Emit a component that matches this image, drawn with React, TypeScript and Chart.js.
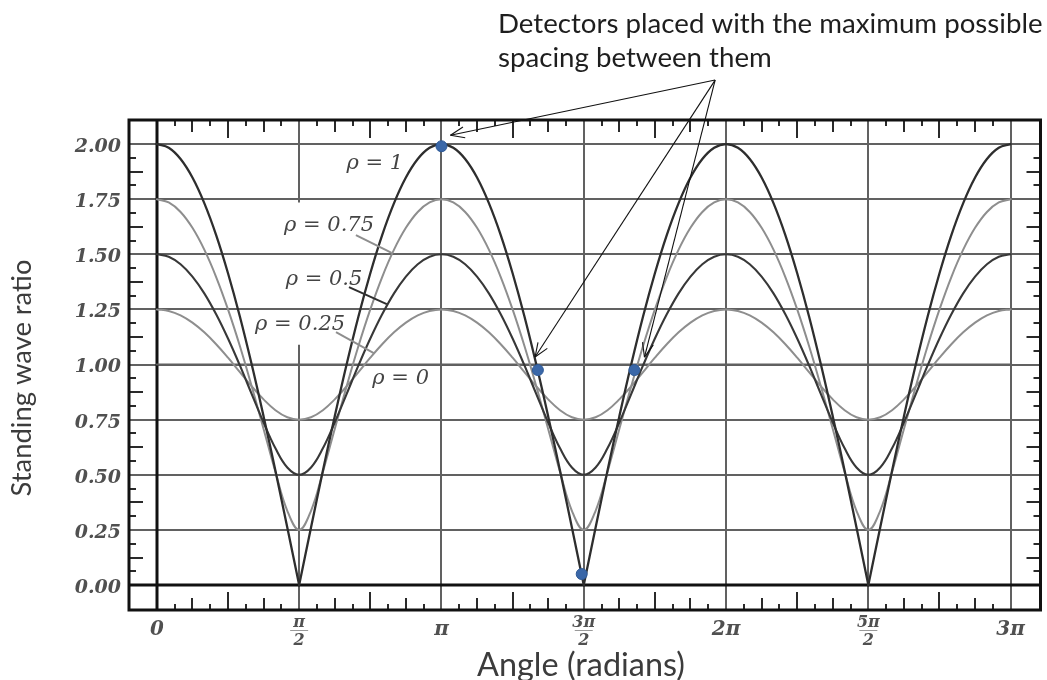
import React, { useEffect, useRef } from 'react';
import { Chart, registerables } from 'chart.js';

Chart.register(...registerables);

// ---------- data ----------
// Angle in degrees (0 .. 3π expressed as 0 .. 540°)
const ANGLE_DEG = [
  0, 7.5, 15, 22.5, 30, 37.5, 45, 52.5, 60, 67.5, 75, 82.5, 90, 97.5, 105, 112.5, 120, 127.5, 135, 142.5, 150, 157.5, 165, 172.5,
  180, 187.5, 195, 202.5, 210, 217.5, 225, 232.5, 240, 247.5, 255, 262.5, 270, 277.5, 285, 292.5, 300, 307.5, 315, 322.5, 330, 337.5, 345, 352.5,
  360, 367.5, 375, 382.5, 390, 397.5, 405, 412.5, 420, 427.5, 435, 442.5, 450, 457.5, 465, 472.5, 480, 487.5, 495, 502.5, 510, 517.5, 525, 532.5,
  540,
];

const SWR_RHO_1 = [
  2.000, 1.983, 1.932, 1.848, 1.732, 1.587, 1.414, 1.218, 1.000, 0.765, 0.518, 0.261, 0.000, 0.261, 0.518, 0.765, 1.000, 1.218, 1.414, 1.587, 1.732, 1.848, 1.932, 1.983,
  2.000, 1.983, 1.932, 1.848, 1.732, 1.587, 1.414, 1.218, 1.000, 0.765, 0.518, 0.261, 0.000, 0.261, 0.518, 0.765, 1.000, 1.218, 1.414, 1.587, 1.732, 1.848, 1.932, 1.983,
  2.000, 1.983, 1.932, 1.848, 1.732, 1.587, 1.414, 1.218, 1.000, 0.765, 0.518, 0.261, 0.000, 0.261, 0.518, 0.765, 1.000, 1.218, 1.414, 1.587, 1.732, 1.848, 1.932, 1.983,
  2.000,
];

const SWR_RHO_075 = [
  1.750, 1.735, 1.692, 1.620, 1.521, 1.397, 1.250, 1.084, 0.901, 0.708, 0.513, 0.337, 0.250, 0.337, 0.513, 0.708, 0.901, 1.084, 1.250, 1.397, 1.521, 1.620, 1.692, 1.735,
  1.750, 1.735, 1.692, 1.620, 1.521, 1.397, 1.250, 1.084, 0.901, 0.708, 0.513, 0.337, 0.250, 0.337, 0.513, 0.708, 0.901, 1.084, 1.250, 1.397, 1.521, 1.620, 1.692, 1.735,
  1.750, 1.735, 1.692, 1.620, 1.521, 1.397, 1.250, 1.084, 0.901, 0.708, 0.513, 0.337, 0.250, 0.337, 0.513, 0.708, 0.901, 1.084, 1.250, 1.397, 1.521, 1.620, 1.692, 1.735,
  1.750,
];

const SWR_RHO_05 = [
  1.500, 1.489, 1.455, 1.399, 1.323, 1.228, 1.118, 0.996, 0.866, 0.737, 0.620, 0.533, 0.500, 0.533, 0.620, 0.737, 0.866, 0.996, 1.118, 1.228, 1.323, 1.399, 1.455, 1.489,
  1.500, 1.489, 1.455, 1.399, 1.323, 1.228, 1.118, 0.996, 0.866, 0.737, 0.620, 0.533, 0.500, 0.533, 0.620, 0.737, 0.866, 0.996, 1.118, 1.228, 1.323, 1.399, 1.455, 1.489,
  1.500, 1.489, 1.455, 1.399, 1.323, 1.228, 1.118, 0.996, 0.866, 0.737, 0.620, 0.533, 0.500, 0.533, 0.620, 0.737, 0.866, 0.996, 1.118, 1.228, 1.323, 1.399, 1.455, 1.489,
  1.500,
];

const SWR_RHO_025 = [
  1.250, 1.243, 1.223, 1.190, 1.146, 1.092, 1.031, 0.966, 0.901, 0.842, 0.793, 0.761, 0.750, 0.761, 0.793, 0.842, 0.901, 0.966, 1.031, 1.092, 1.146, 1.190, 1.223, 1.243,
  1.250, 1.243, 1.223, 1.190, 1.146, 1.092, 1.031, 0.966, 0.901, 0.842, 0.793, 0.761, 0.750, 0.761, 0.793, 0.842, 0.901, 0.966, 1.031, 1.092, 1.146, 1.190, 1.223, 1.243,
  1.250, 1.243, 1.223, 1.190, 1.146, 1.092, 1.031, 0.966, 0.901, 0.842, 0.793, 0.761, 0.750, 0.761, 0.793, 0.842, 0.901, 0.966, 1.031, 1.092, 1.146, 1.190, 1.223, 1.243,
  1.250,
];

const RHO_0_ANGLE_DEG = [0, 540];
const SWR_RHO_0 = [1.0, 1.0];

// indices (into ANGLE_DEG) where the ρ = 1 curve has its sharp zeros
const RHO_1_CUSP_INDEX = [0, 12, 36, 60, 72];

// detector positions (blue dots)
const DETECTOR_ANGLE_DEG = [180, 241, 302, 268.7];
const DETECTOR_SWR = [1.99, 0.975, 0.975, 0.05];

// axes
const Y_TICKS = [0, 0.25, 0.5, 0.75, 1.0, 1.25, 1.5, 1.75, 2.0];
const X_TICKS_DEG = [0, 90, 180, 270, 360, 450, 540];
const X_TICK_NUM = ['0', 'π', 'π', '3π', '2π', '5π', '3π'];
const X_TICK_DEN = ['', '2', '', '2', '', '2', ''];

// curve labels
const RHO_LABELS = ['ρ = 1', 'ρ = 0.75', 'ρ = 0.5', 'ρ = 0.25', 'ρ = 0'];

const TITLE_LINES = ['Detectors placed with the maximum possible', 'spacing between them'];
const Y_TITLE = 'Standing wave ratio';
const X_TITLE = 'Angle (radians)';

// ---------- styling ----------
const DARK = '#2e2e2e';
const LIGHT = '#8e8e8e';
const GRID = '#616161';
const FRAME = '#111111';
const DOT = '#3a67a8';
const SERIF = '"DejaVu Serif", "Liberation Serif", serif';
const SANS = 'Lato, "Open Sans", sans-serif';

export default function App() {
  const ref = useRef<HTMLCanvasElement | null>(null);

  useEffect(() => {
    const canvas = ref.current;
    if (!canvas) return;

    const pts = (xs: number[], ys: number[]) => xs.map((x, i) => ({ x, y: ys[i] }));

    const line = (ctx: CanvasRenderingContext2D, x1: number, y1: number, x2: number, y2: number) => {
      ctx.beginPath();
      ctx.moveTo(x1, y1);
      ctx.lineTo(x2, y2);
      ctx.stroke();
    };

    const fitSize = (ctx: CanvasRenderingContext2D, text: string, family: string, target: number) => {
      ctx.font = `40px ${family}`;
      const w = ctx.measureText(text).width;
      return (40 * target) / w;
    };

    const decor = {
      id: 'decor',
      beforeDatasetsDraw(chart: any) {
        const { ctx, chartArea: a, scales } = chart;
        const xs = scales.x;
        const ys = scales.y;
        ctx.save();
        ctx.lineCap = 'butt';
        ctx.strokeStyle = GRID;
        ctx.lineWidth = 2;
        for (const v of Y_TICKS) {
          if (v === 0) continue;
          const py = Math.round(ys.getPixelForValue(v));
          line(ctx, a.left, py, a.right, py);
        }
        for (const v of X_TICKS_DEG) {
          if (v === 0) continue;
          const px = Math.round(xs.getPixelForValue(v));
          if (v === 90) {
            // gridline interrupted behind the curve labels
            line(ctx, px, a.top, px, ys.getPixelForValue(1.735));
            line(ctx, px, ys.getPixelForValue(1.09), px, a.bottom);
          } else {
            line(ctx, px, a.top, px, a.bottom);
          }
        }
        ctx.strokeStyle = FRAME;
        ctx.lineWidth = 3;
        const x0 = Math.round(xs.getPixelForValue(0));
        const y0 = Math.round(ys.getPixelForValue(0));
        line(ctx, x0, a.top, x0, a.bottom);
        line(ctx, a.left, y0, a.right, y0);
        ctx.restore();
      },
      afterDatasetsDraw(chart: any) {
        const { ctx, chartArea: a, scales } = chart;
        const xs = scales.x;
        const ys = scales.y;
        ctx.save();
        // minor tick marks on top / bottom
        ctx.strokeStyle = '#2a2a2a';
        ctx.lineWidth = 2;
        for (let k = 1; k < 48; k++) {
          if (k % 8 === 0) continue;
          const len = k % 4 === 0 ? 18 : k % 2 === 0 ? 12 : 6;
          const px = Math.round(xs.getPixelForValue(k * 11.25));
          line(ctx, px, a.top, px, a.top + len);
          line(ctx, px, a.bottom, px, a.bottom - len);
        }
        // minor tick marks on left / right
        for (let k = 1; k < 32; k++) {
          if (k % 4 === 0) continue;
          const len = k % 2 === 0 ? 14 : 7;
          const py = Math.round(ys.getPixelForValue(k * 0.0625));
          line(ctx, a.left, py, a.left + len, py);
          line(ctx, a.right, py, a.right - len, py);
        }
        // frame
        ctx.strokeStyle = FRAME;
        ctx.lineWidth = 3;
        ctx.strokeRect(a.left, a.top, a.right - a.left, a.bottom - a.top);
        ctx.restore();
      },
      afterDraw(chart: any) {
        const { ctx, chartArea: a, scales } = chart;
        const xs = scales.x;
        const ys = scales.y;
        const P = (dx: number, dy: number) => [xs.getPixelForValue(dx), ys.getPixelForValue(dy)];
        ctx.save();

        // x tick labels (with fractions)
        ctx.fillStyle = '#505050';
        ctx.textAlign = 'center';
        ctx.textBaseline = 'alphabetic';
        X_TICKS_DEG.forEach((v, i) => {
          const px = xs.getPixelForValue(v);
          if (X_TICK_DEN[i]) {
            ctx.font = `italic bold 16px ${SERIF}`;
            ctx.fillText(X_TICK_NUM[i], px, a.bottom + 17);
            ctx.strokeStyle = '#9a9a9a';
            ctx.lineWidth = 1;
            line(ctx, px - 9, a.bottom + 20.5, px + 9, a.bottom + 20.5);
            ctx.fillText(X_TICK_DEN[i], px, a.bottom + 35);
          } else {
            ctx.font = `italic bold 20px ${SERIF}`;
            ctx.fillText(X_TICK_NUM[i], px, a.bottom + 25);
          }
        });

        // curve labels and leader lines
        ctx.font = `italic 21px ${SERIF}`;
        ctx.fillStyle = '#444444';
        ctx.textBaseline = 'middle';
        const labelPos = [
          [137.8, 1.918],
          [108.9, 1.633],
          [105.7, 1.392],
          [90.6, 1.188],
          [154.2, 0.943],
        ];
        RHO_LABELS.forEach((t, i) => {
          const [px, py] = P(labelPos[i][0], labelPos[i][1]);
          ctx.fillText(t, px, py + 1);
        });
        const leaders = [
          { from: [125.9, 1.587], to: [148.5, 1.506], color: LIGHT },
          { from: [121.5, 1.351], to: [145.4, 1.274], color: DARK },
          { from: [113.3, 1.147], to: [137.2, 1.052], color: LIGHT },
        ];
        ctx.lineWidth = 2;
        for (const l of leaders) {
          const [x1, y1] = P(l.from[0], l.from[1]);
          const [x2, y2] = P(l.to[0], l.to[1]);
          ctx.strokeStyle = l.color;
          line(ctx, x1, y1, x2, y2);
        }

        // arrows from the annotation to the detectors
        const [ax, ay] = P(353.1, 2.29);
        const tips = [
          [185.7, 2.04],
          [239.2, 1.034],
          [308.4, 1.034],
        ];
        ctx.strokeStyle = '#111';
        ctx.lineWidth = 1.1;
        for (const t of tips) {
          const [tx, ty] = P(t[0], t[1]);
          line(ctx, ax, ay, tx, ty);
          const ang = Math.atan2(ay - ty, ax - tx);
          const hl = 15;
          const spread = 0.38;
          line(ctx, tx, ty, tx + hl * Math.cos(ang + spread), ty + hl * Math.sin(ang + spread));
          line(ctx, tx, ty, tx + hl * Math.cos(ang - spread), ty + hl * Math.sin(ang - spread));
        }

        // annotation text
        const tSize = fitSize(ctx, TITLE_LINES[0], SANS, 545);
        ctx.font = `${tSize}px ${SANS}`;
        ctx.fillStyle = '#1e1e1e';
        ctx.textAlign = 'left';
        ctx.textBaseline = 'alphabetic';
        ctx.fillText(TITLE_LINES[0], 498, 33);
        ctx.fillText(TITLE_LINES[1], 498, 67);

        // axis titles
        ctx.fillStyle = '#3c3c3c';
        const xtSize = fitSize(ctx, X_TITLE, SANS, 208);
        ctx.font = `${xtSize}px ${SANS}`;
        ctx.textAlign = 'center';
        ctx.textBaseline = 'middle';
        ctx.fillText(X_TITLE, 581, 666);
        const ytSize = fitSize(ctx, Y_TITLE, SANS, 237);
        ctx.font = `${ytSize}px ${SANS}`;
        ctx.translate(22, 378);
        ctx.rotate(-Math.PI / 2);
        ctx.fillText(Y_TITLE, 0, 0);
        ctx.restore();
      },
    };

    // ρ = 1 is split at its sharp zeros so the smoothing does not round the cusps
    const rho1Datasets = RHO_1_CUSP_INDEX.slice(0, -1).map((start, i) => {
      const end = RHO_1_CUSP_INDEX[i + 1];
      return {
        label: i === 0 ? 'ρ = 1' : `ρ = 1 (${i + 1})`,
        data: pts(ANGLE_DEG.slice(start, end + 1), SWR_RHO_1.slice(start, end + 1)),
        borderColor: DARK,
        borderWidth: 2.3,
        pointRadius: 0,
        order: 1,
      };
    });

    const chart = new Chart(canvas, {
      type: 'line',
      data: {
        datasets: [
          {
            label: 'detectors',
            data: pts(DETECTOR_ANGLE_DEG, DETECTOR_SWR),
            showLine: false,
            pointRadius: 5.5,
            pointBackgroundColor: DOT,
            pointBorderColor: '#2f5a96',
            pointBorderWidth: 1,
            order: 0,
          },
          ...rho1Datasets,
          {
            label: 'ρ = 0.75',
            data: pts(ANGLE_DEG, SWR_RHO_075),
            borderColor: LIGHT,
            borderWidth: 2,
            pointRadius: 0,
            order: 3,
          },
          {
            label: 'ρ = 0.5',
            data: pts(ANGLE_DEG, SWR_RHO_05),
            borderColor: '#383838',
            borderWidth: 2.1,
            pointRadius: 0,
            order: 2,
          },
          {
            label: 'ρ = 0.25',
            data: pts(ANGLE_DEG, SWR_RHO_025),
            borderColor: LIGHT,
            borderWidth: 2,
            pointRadius: 0,
            order: 4,
          },
          {
            label: 'ρ = 0',
            data: pts(RHO_0_ANGLE_DEG, SWR_RHO_0),
            borderColor: GRID,
            borderWidth: 2,
            pointRadius: 0,
            order: 5,
          },
        ],
      },
      options: {
        animation: false,
        responsive: false,
        devicePixelRatio: 1,
        events: [],
        layout: { padding: { top: 120, right: 2, left: 0, bottom: 0 } },
        elements: {
          line: { tension: 0.4, cubicInterpolationMode: 'default', borderJoinStyle: 'round', borderCapStyle: 'round' },
          point: { radius: 0 },
        },
        plugins: { legend: { display: false }, tooltip: { enabled: false }, title: { display: false } },
        scales: {
          x: {
            type: 'linear',
            min: -17.62,
            max: 558.88,
            grid: { display: false },
            border: { display: false },
            ticks: { display: false },
            afterFit: (s: any) => {
              s.height = 70;
            },
          },
          y: {
            type: 'linear',
            min: -0.113,
            max: 2.109,
            grid: { display: false, drawTicks: false },
            border: { display: false },
            afterBuildTicks: (s: any) => {
              s.ticks = Y_TICKS.map((v) => ({ value: v }));
            },
            ticks: {
              callback: (v: any) => Number(v).toFixed(2),
              font: { family: SERIF, style: 'italic', weight: 'bold', size: 19 },
              color: '#505050',
              padding: 8,
              labelOffset: 3,
            },
            afterFit: (s: any) => {
              s.width = 129;
            },
          },
        },
      },
      plugins: [decor],
    } as any);

    return () => {
      chart.destroy();
    };
  }, []);

  return (
    <div style={{ position: 'fixed', left: 0, top: 0, width: 1047, height: 680, background: '#ffffff' }}>
      <canvas ref={ref} width={1047} height={680} style={{ display: 'block', width: 1047, height: 680 }} />
    </div>
  );
}
